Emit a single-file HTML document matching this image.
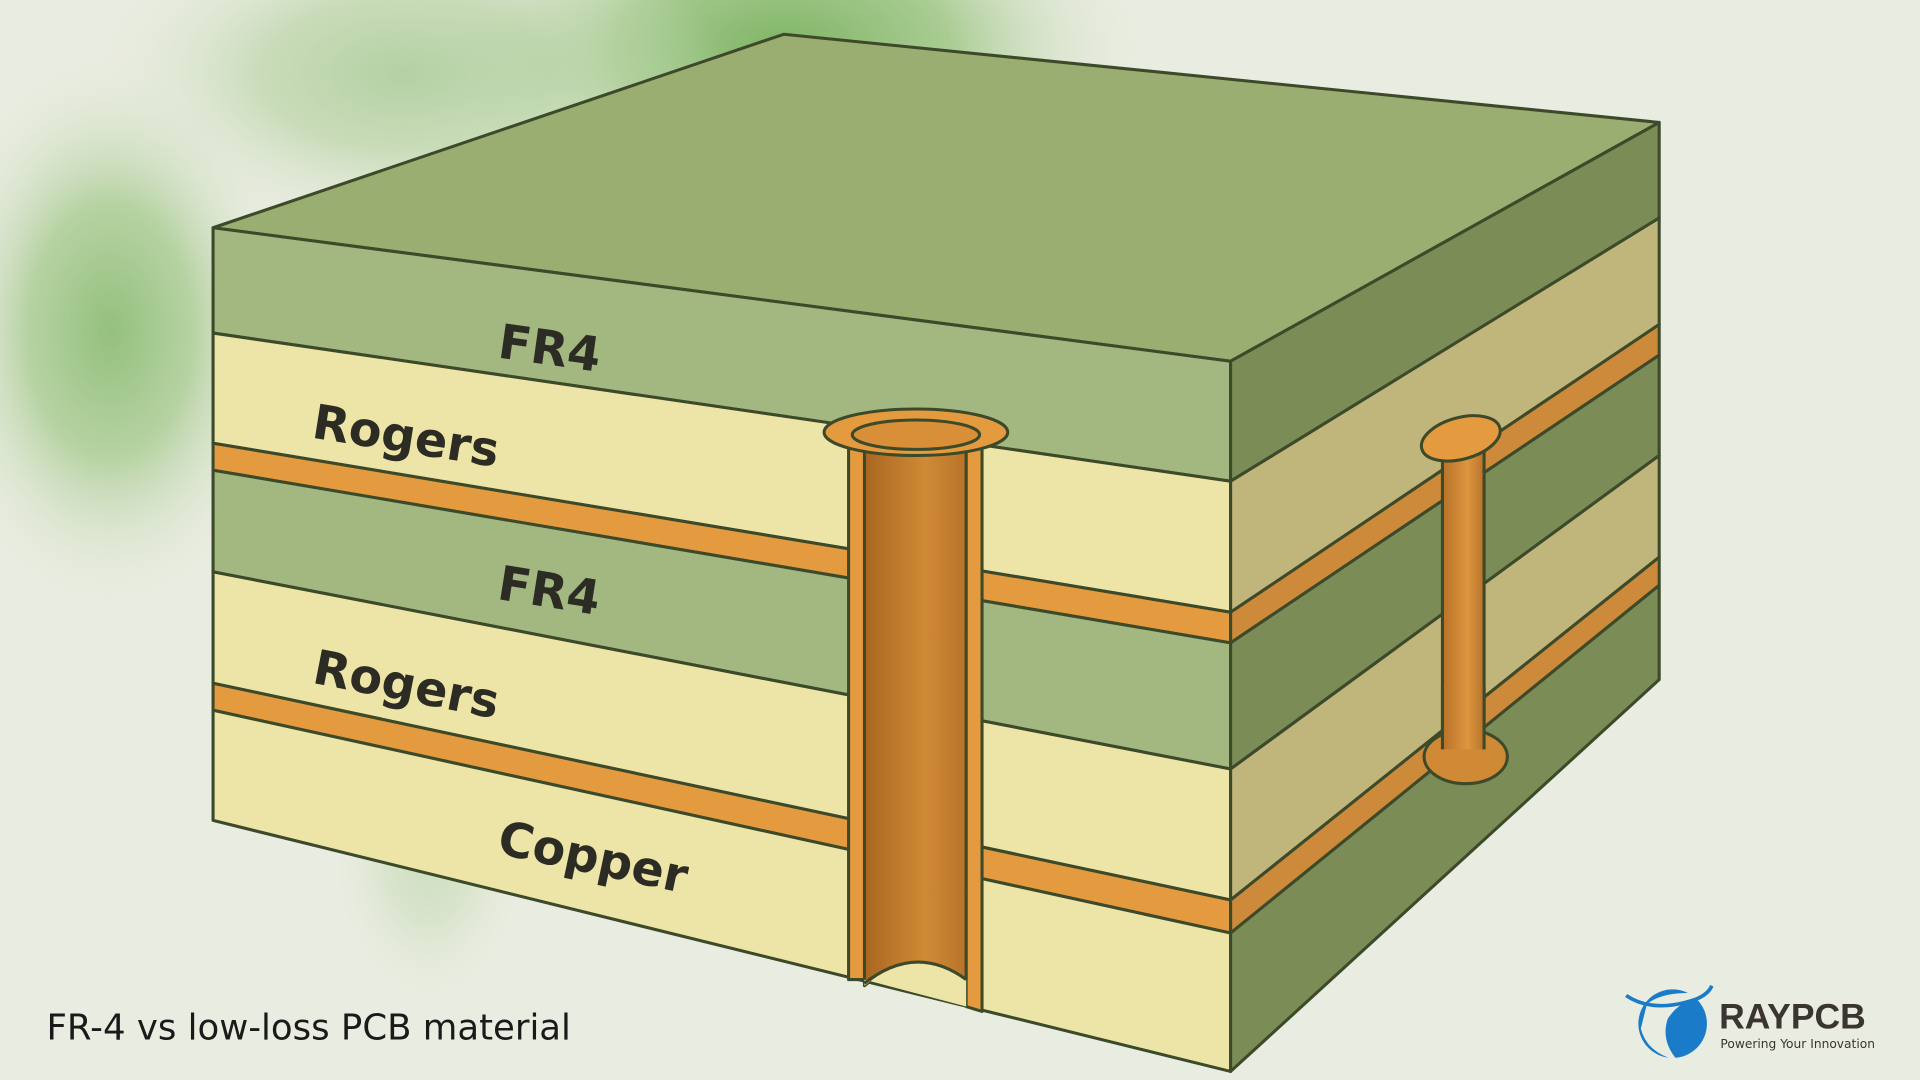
<!DOCTYPE html>
<html><head><meta charset="utf-8"><style>
html,body{margin:0;padding:0;width:1920px;height:1080px;overflow:hidden;background:#e9ece0}
svg{display:block}
text{font-family:"DejaVu Sans","Liberation Sans",sans-serif}
</style></head><body>
<svg width="1920" height="1080" viewBox="0 0 1568 882" preserveAspectRatio="none" xmlns="http://www.w3.org/2000/svg">
<defs>
<radialGradient id="g" cx="0.5" cy="0.5" r="0.5">
<stop offset="0" stop-color="#7fb565"/><stop offset="0.45" stop-color="#a9cc93"/><stop offset="1" stop-color="#e9ece0" stop-opacity="0"/></radialGradient>
<linearGradient id="via" x1="0" x2="1">
<stop offset="0" stop-color="#a9661f"/><stop offset="0.6" stop-color="#d08a35"/><stop offset="1" stop-color="#b8732a"/></linearGradient>
<linearGradient id="via2" x1="0" x2="1">
<stop offset="0" stop-color="#b87127"/><stop offset="0.6" stop-color="#dc9640"/><stop offset="1" stop-color="#b8732a"/></linearGradient>
</defs>
<rect width="1568" height="882" fill="#e9ece0"/>
<ellipse cx="640" cy="40" rx="300" ry="170" fill="url(#g)"/>
<ellipse cx="330" cy="60" rx="260" ry="140" fill="url(#g)" opacity="0.5"/>
<ellipse cx="90" cy="270" rx="150" ry="230" fill="url(#g)" opacity="0.8"/>
<ellipse cx="350" cy="700" rx="80" ry="120" fill="url(#g)" opacity="0.25"/>
<g stroke="#3d4a2a" stroke-width="2.5" stroke-linejoin="round">
<polygon points="174,186 640,28 1355,100 1005,295" fill="#9aae71"/>
<polygon points="174,186 1005,295 1005,393 174,272" fill="#a3b880"/>
<polygon points="174,272 1005,393 1005,500 174,362" fill="#ede5a7"/>
<polygon points="174,362 1005,500 1005,525 174,384" fill="#e49b3f"/>
<polygon points="174,384 1005,525 1005,628 174,467" fill="#a3b880"/>
<polygon points="174,467 1005,628 1005,735 174,558" fill="#ede5a7"/>
<polygon points="174,558 1005,735 1005,762 174,580" fill="#e49b3f"/>
<polygon points="174,580 1005,762 1005,875 174,670" fill="#ede5a7"/>
<polygon points="1005,295 1355,100 1355,178 1005,393" fill="#7b8c56"/>
<polygon points="1005,393 1355,178 1355,265 1005,500" fill="#c0b67c"/>
<polygon points="1005,500 1355,265 1355,290 1005,525" fill="#cc8a3a"/>
<polygon points="1005,525 1355,290 1355,372 1005,628" fill="#7b8c56"/>
<polygon points="1005,628 1355,372 1355,455 1005,735" fill="#c0b67c"/>
<polygon points="1005,735 1355,455 1355,478 1005,762" fill="#cc8a3a"/>
<polygon points="1005,762 1355,478 1355,555 1005,875" fill="#7b8c56"/>
<path d="M693,355 L693,800 L706,800 L706,360 Z" fill="#e49b3f"/>
<path d="M789,360 L789,822 L802,826 L802,355 Z" fill="#e49b3f"/>
<path d="M706,360 L706,805 Q748,770 789,800 L789,360 Z" fill="url(#via)"/>
<path d="M706,805 Q748,770 789,800 L789,822 L706,800 Z" fill="#ede5a7" stroke="none"/>
<path d="M706,803 Q748,770 789,800" fill="none"/>
<ellipse cx="748" cy="353" rx="75" ry="19" fill="#e49b3f"/>
<ellipse cx="748" cy="355" rx="52" ry="12" fill="#d98f38"/>
<rect x="1178" y="360" width="34" height="255" fill="url(#via2)"/>
<ellipse cx="1197" cy="618" rx="34" ry="22" fill="#d08a35"/>
<rect x="1178" y="560" width="34" height="52" fill="url(#via2)" stroke="none"/>
<path d="M1178,560 L1178,612 M1212,560 L1212,612" fill="none"/>
<ellipse cx="1193" cy="358" rx="33" ry="17" fill="#e49b3f" transform="rotate(-15 1193 358)"/>
</g>
<g fill="#2c2c24" font-weight="bold" font-size="39">
<text x="407" y="298" transform="rotate(8 450 285)">FR4</text>
<text x="255" y="370" transform="rotate(9 335 355)">Rogers</text>
<text x="407" y="496" transform="rotate(9 450 480)">FR4</text>
<text x="255" y="573" transform="rotate(11 335 560)">Rogers</text>
<text x="405" y="714" transform="rotate(12 487 705)">Copper</text>
</g>
<text x="38" y="849" font-size="29" fill="#1a1a1a">FR-4 vs low-loss PCB material</text>
<circle cx="1366" cy="836" r="28" fill="#1a7cc8"/>
<path d="M1345,820 Q1360,808 1395,812 Q1372,816 1362,832 Q1356,850 1370,866 Q1345,860 1340,840 Z" fill="#e9ece0"/>
<path d="M1328,813 Q1350,828 1385,816 Q1395,812 1398,805" fill="none" stroke="#1a7cc8" stroke-width="3"/>
<text x="1404" y="840" font-size="29" font-weight="bold" fill="#3a3530" style="font-family:'Liberation Sans',sans-serif">RAYPCB</text>
<text x="1405" y="856" font-size="10" fill="#3a3530">Powering Your Innovation</text>
</svg>
</body></html>
